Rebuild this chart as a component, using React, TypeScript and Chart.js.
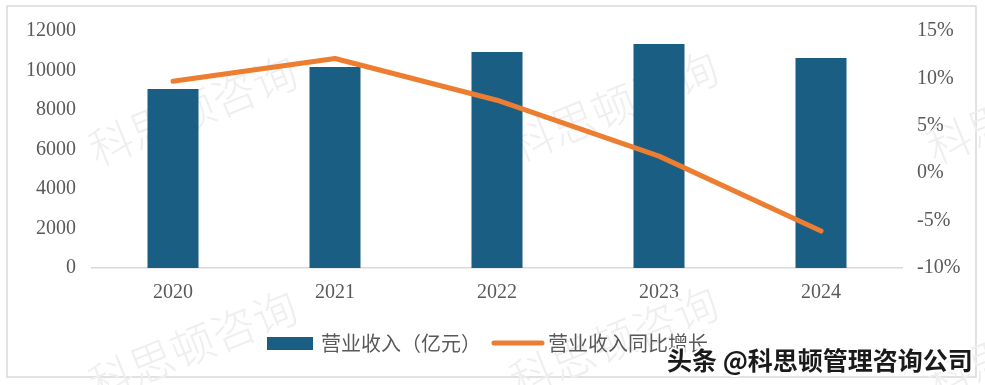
import React, { useEffect, useRef } from "react";
import { Chart, registerables } from "chart.js";

Chart.register(...registerables);

const categories = ["2020", "2021", "2022", "2023", "2024"];
const revenue = [9060, 10180, 10940, 11340, 10630];
const growthPct = [9.7, 12.1, 7.7, 1.8, -6.1];
const revenueLabel = "营业收入（亿元）";
const growthLabel = "营业收入同比增长";
const watermarkText = "科思顿咨询";
const creditText = "头条 @科思顿管理咨询公司";

const BAR_COLOR = "#1A5E83";
const LINE_COLOR = "#ED7D31";
const TEXT_COLOR = "#595959";
const TICK_FONT = { family: "'Liberation Serif', 'DejaVu Serif', serif", size: 20 };
const CJK = "'Noto Sans CJK SC', sans-serif";

const decorPlugin = {
  id: "decor",
  beforeDraw(chart: any) {
    const ctx = chart.ctx;
    ctx.save();
    ctx.fillStyle = "#ffffff";
    ctx.fillRect(0, 0, chart.width, chart.height);
    ctx.strokeStyle = "#d9d9d9";
    ctx.lineWidth = 1.5;
    ctx.strokeRect(7, 6, 969, 371);
    ctx.restore();
  },
  beforeDatasetsDraw(chart: any) {
    const ctx = chart.ctx;
    const spots = [
      [97, 167], [518, 163], [935, 165],
      [97, 402], [518, 398], [935, 400],
    ];
    ctx.save();
    ctx.fillStyle = "#efefef";
    ctx.font = `300 44px ${CJK}`;
    ctx.textBaseline = "alphabetic";
    ctx.textAlign = "left";
    for (const [x, y] of spots) {
      ctx.save();
      ctx.translate(x, y);
      ctx.rotate((-22 * Math.PI) / 180);
      ctx.fillText(watermarkText, 0, 0);
      ctx.restore();
    }
    ctx.restore();
  },
  afterDraw(chart: any) {
    const ctx = chart.ctx;
    ctx.save();
    // legend
    const ly = 343;
    ctx.fillStyle = BAR_COLOR;
    ctx.fillRect(267, 337, 46, 13);
    ctx.font = `20px ${CJK}`;
    ctx.fillStyle = TEXT_COLOR;
    ctx.textBaseline = "middle";
    ctx.textAlign = "left";
    ctx.fillText(revenueLabel, 321, ly);
    ctx.strokeStyle = LINE_COLOR;
    ctx.lineWidth = 5;
    ctx.lineCap = "round";
    ctx.beginPath();
    ctx.moveTo(494, ly);
    ctx.lineTo(542, ly);
    ctx.stroke();
    ctx.fillText(growthLabel, 548, ly);
    // credit text
    ctx.font = `bold 25px ${CJK}`;
    ctx.lineJoin = "round";
    ctx.lineWidth = 4;
    ctx.strokeStyle = "#ffffff";
    ctx.strokeText(creditText, 667, 360);
    ctx.fillStyle = "#1a1a1a";
    ctx.fillText(creditText, 667, 360);
    ctx.restore();
  },
};

export default function App() {
  const ref = useRef<HTMLCanvasElement | null>(null);
  useEffect(() => {
    if (!ref.current) return;
    const chart = new Chart(ref.current, {
      type: "bar",
      data: {
        labels: categories,
        datasets: [
          {
            type: "line",
            label: growthLabel,
            data: growthPct,
            yAxisID: "y1",
            borderColor: LINE_COLOR,
            backgroundColor: LINE_COLOR,
            borderWidth: 5,
            borderCapStyle: "round",
            borderJoinStyle: "round",
            pointRadius: 0,
            tension: 0,
            order: 0,
          },
          {
            type: "bar",
            label: revenueLabel,
            data: revenue,
            yAxisID: "y",
            backgroundColor: BAR_COLOR,
            categoryPercentage: 1,
            barPercentage: 0.315,
            order: 1,
          },
        ],
      },
      options: {
        responsive: false,
        animation: false,
        devicePixelRatio: 1,
        layout: { padding: { left: 0, right: 0, top: 31, bottom: 77 } },
        plugins: {
          legend: { display: false },
          tooltip: { enabled: false },
        },
        scales: {
          x: {
            grid: { display: false, drawTicks: false },
            border: { display: true, color: "#d9d9d9", width: 1.5 },
            ticks: { font: TICK_FONT, color: TEXT_COLOR, padding: 13 },
            afterFit: (s: any) => {
              s.height = 40;
            },
          },
          y: {
            position: "left",
            min: 0,
            max: 12000,
            grid: { display: false, drawTicks: false },
            border: { display: false },
            ticks: {
              stepSize: 2000,
              font: TICK_FONT,
              color: TEXT_COLOR,
              padding: 16,
              callback: (v: any) => String(v),
            },
            afterFit: (s: any) => {
              s.width = 92;
            },
          },
          y1: {
            position: "right",
            min: -10,
            max: 15,
            grid: { display: false, drawTicks: false },
            border: { display: false },
            ticks: {
              stepSize: 5,
              font: TICK_FONT,
              color: TEXT_COLOR,
              padding: 15,
              callback: (v: any) => `${v}%`,
            },
            afterFit: (s: any) => {
              s.width = 83;
            },
          },
        },
      },
      plugins: [decorPlugin],
    } as any);
    return () => chart.destroy();
  }, []);
  return (
    <div style={{ position: "fixed", left: 0, top: 0, width: 985, height: 385, background: "#fff" }}>
      <canvas ref={ref} width={985} height={385} style={{ display: "block" }} />
    </div>
  );
}
